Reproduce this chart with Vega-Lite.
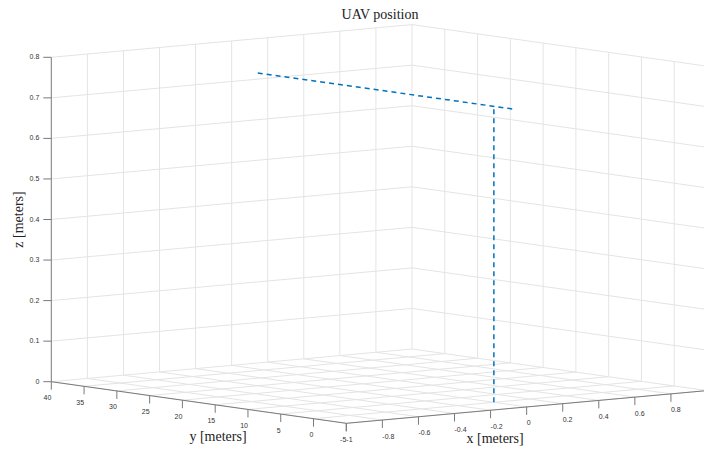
{
  "$schema": "https://vega.github.io/schema/vega-lite/v6.json",
  "width": 704,
  "height": 450,
  "autosize": {"type": "none"},
  "padding": 0,
  "background": "white",
  "config": {"view": {"stroke": null}},
  "title": {"text": "UAV position", "font": "Liberation Serif", "fontSize": 14, "fontWeight": "normal", "color": "#222222", "anchor": "middle", "dx": 28, "offset": -32.5, "baseline": "alphabetic"},
  "datasets": {
    "grid": [
      {"x1": -0.8, "y1": 40, "z1": 0, "x2": -0.8, "y2": 40, "z2": 0.8},
      {"x1": -0.6, "y1": 40, "z1": 0, "x2": -0.6, "y2": 40, "z2": 0.8},
      {"x1": -0.4, "y1": 40, "z1": 0, "x2": -0.4, "y2": 40, "z2": 0.8},
      {"x1": -0.2, "y1": 40, "z1": 0, "x2": -0.2, "y2": 40, "z2": 0.8},
      {"x1": 0, "y1": 40, "z1": 0, "x2": 0, "y2": 40, "z2": 0.8},
      {"x1": 0.2, "y1": 40, "z1": 0, "x2": 0.2, "y2": 40, "z2": 0.8},
      {"x1": 0.4, "y1": 40, "z1": 0, "x2": 0.4, "y2": 40, "z2": 0.8},
      {"x1": 0.6, "y1": 40, "z1": 0, "x2": 0.6, "y2": 40, "z2": 0.8},
      {"x1": 0.8, "y1": 40, "z1": 0, "x2": 0.8, "y2": 40, "z2": 0.8},
      {"x1": 1, "y1": 40, "z1": 0, "x2": 1, "y2": 40, "z2": 0.8},
      {"x1": -1, "y1": 40, "z1": 0.1, "x2": 1, "y2": 40, "z2": 0.1},
      {"x1": -1, "y1": 40, "z1": 0.2, "x2": 1, "y2": 40, "z2": 0.2},
      {"x1": -1, "y1": 40, "z1": 0.3, "x2": 1, "y2": 40, "z2": 0.3},
      {"x1": -1, "y1": 40, "z1": 0.4, "x2": 1, "y2": 40, "z2": 0.4},
      {"x1": -1, "y1": 40, "z1": 0.5, "x2": 1, "y2": 40, "z2": 0.5},
      {"x1": -1, "y1": 40, "z1": 0.6, "x2": 1, "y2": 40, "z2": 0.6},
      {"x1": -1, "y1": 40, "z1": 0.7, "x2": 1, "y2": 40, "z2": 0.7},
      {"x1": -1, "y1": 40, "z1": 0.8, "x2": 1, "y2": 40, "z2": 0.8},
      {"x1": 1, "y1": -5, "z1": 0, "x2": 1, "y2": -5, "z2": 0.8},
      {"x1": 1, "y1": 0, "z1": 0, "x2": 1, "y2": 0, "z2": 0.8},
      {"x1": 1, "y1": 5, "z1": 0, "x2": 1, "y2": 5, "z2": 0.8},
      {"x1": 1, "y1": 10, "z1": 0, "x2": 1, "y2": 10, "z2": 0.8},
      {"x1": 1, "y1": 15, "z1": 0, "x2": 1, "y2": 15, "z2": 0.8},
      {"x1": 1, "y1": 20, "z1": 0, "x2": 1, "y2": 20, "z2": 0.8},
      {"x1": 1, "y1": 25, "z1": 0, "x2": 1, "y2": 25, "z2": 0.8},
      {"x1": 1, "y1": 30, "z1": 0, "x2": 1, "y2": 30, "z2": 0.8},
      {"x1": 1, "y1": 35, "z1": 0, "x2": 1, "y2": 35, "z2": 0.8},
      {"x1": 1, "y1": -5, "z1": 0.1, "x2": 1, "y2": 40, "z2": 0.1},
      {"x1": 1, "y1": -5, "z1": 0.2, "x2": 1, "y2": 40, "z2": 0.2},
      {"x1": 1, "y1": -5, "z1": 0.3, "x2": 1, "y2": 40, "z2": 0.3},
      {"x1": 1, "y1": -5, "z1": 0.4, "x2": 1, "y2": 40, "z2": 0.4},
      {"x1": 1, "y1": -5, "z1": 0.5, "x2": 1, "y2": 40, "z2": 0.5},
      {"x1": 1, "y1": -5, "z1": 0.6, "x2": 1, "y2": 40, "z2": 0.6},
      {"x1": 1, "y1": -5, "z1": 0.7, "x2": 1, "y2": 40, "z2": 0.7},
      {"x1": 1, "y1": -5, "z1": 0.8, "x2": 1, "y2": 40, "z2": 0.8},
      {"x1": -1, "y1": -5, "z1": 0, "x2": -1, "y2": 40, "z2": 0},
      {"x1": -0.8, "y1": -5, "z1": 0, "x2": -0.8, "y2": 40, "z2": 0},
      {"x1": -0.6, "y1": -5, "z1": 0, "x2": -0.6, "y2": 40, "z2": 0},
      {"x1": -0.4, "y1": -5, "z1": 0, "x2": -0.4, "y2": 40, "z2": 0},
      {"x1": -0.2, "y1": -5, "z1": 0, "x2": -0.2, "y2": 40, "z2": 0},
      {"x1": 0, "y1": -5, "z1": 0, "x2": 0, "y2": 40, "z2": 0},
      {"x1": 0.2, "y1": -5, "z1": 0, "x2": 0.2, "y2": 40, "z2": 0},
      {"x1": 0.4, "y1": -5, "z1": 0, "x2": 0.4, "y2": 40, "z2": 0},
      {"x1": 0.6, "y1": -5, "z1": 0, "x2": 0.6, "y2": 40, "z2": 0},
      {"x1": 0.8, "y1": -5, "z1": 0, "x2": 0.8, "y2": 40, "z2": 0},
      {"x1": 1, "y1": -5, "z1": 0, "x2": 1, "y2": 40, "z2": 0},
      {"x1": -1, "y1": -5, "z1": 0, "x2": 1, "y2": -5, "z2": 0},
      {"x1": -1, "y1": 0, "z1": 0, "x2": 1, "y2": 0, "z2": 0},
      {"x1": -1, "y1": 5, "z1": 0, "x2": 1, "y2": 5, "z2": 0},
      {"x1": -1, "y1": 10, "z1": 0, "x2": 1, "y2": 10, "z2": 0},
      {"x1": -1, "y1": 15, "z1": 0, "x2": 1, "y2": 15, "z2": 0},
      {"x1": -1, "y1": 20, "z1": 0, "x2": 1, "y2": 20, "z2": 0},
      {"x1": -1, "y1": 25, "z1": 0, "x2": 1, "y2": 25, "z2": 0},
      {"x1": -1, "y1": 30, "z1": 0, "x2": 1, "y2": 30, "z2": 0},
      {"x1": -1, "y1": 35, "z1": 0, "x2": 1, "y2": 35, "z2": 0},
      {"x1": -1, "y1": 40, "z1": 0, "x2": 1, "y2": 40, "z2": 0}
    ],
    "axes": [
      {"axis": "z", "x1": -1, "y1": 40, "z1": 0, "x2": -1, "y2": 40, "z2": 0.8},
      {"axis": "y", "x1": -1, "y1": -5, "z1": 0, "x2": -1, "y2": 40, "z2": 0},
      {"axis": "x", "x1": -1, "y1": -5, "z1": 0, "x2": 1, "y2": -5, "z2": 0}
    ],
    "ticks": [
      {"axis": "z", "x": -1, "y": 40, "z": 0, "label": "0"},
      {"axis": "z", "x": -1, "y": 40, "z": 0.1, "label": "0.1"},
      {"axis": "z", "x": -1, "y": 40, "z": 0.2, "label": "0.2"},
      {"axis": "z", "x": -1, "y": 40, "z": 0.3, "label": "0.3"},
      {"axis": "z", "x": -1, "y": 40, "z": 0.4, "label": "0.4"},
      {"axis": "z", "x": -1, "y": 40, "z": 0.5, "label": "0.5"},
      {"axis": "z", "x": -1, "y": 40, "z": 0.6, "label": "0.6"},
      {"axis": "z", "x": -1, "y": 40, "z": 0.7, "label": "0.7"},
      {"axis": "z", "x": -1, "y": 40, "z": 0.8, "label": "0.8"},
      {"axis": "y", "x": -1, "y": -5, "z": 0, "label": "-5"},
      {"axis": "y", "x": -1, "y": 0, "z": 0, "label": "0"},
      {"axis": "y", "x": -1, "y": 5, "z": 0, "label": "5"},
      {"axis": "y", "x": -1, "y": 10, "z": 0, "label": "10"},
      {"axis": "y", "x": -1, "y": 15, "z": 0, "label": "15"},
      {"axis": "y", "x": -1, "y": 20, "z": 0, "label": "20"},
      {"axis": "y", "x": -1, "y": 25, "z": 0, "label": "25"},
      {"axis": "y", "x": -1, "y": 30, "z": 0, "label": "30"},
      {"axis": "y", "x": -1, "y": 35, "z": 0, "label": "35"},
      {"axis": "y", "x": -1, "y": 40, "z": 0, "label": "40"},
      {"axis": "x", "x": -1, "y": -5, "z": 0, "label": "-1"},
      {"axis": "x", "x": -0.8, "y": -5, "z": 0, "label": "-0.8"},
      {"axis": "x", "x": -0.6, "y": -5, "z": 0, "label": "-0.6"},
      {"axis": "x", "x": -0.4, "y": -5, "z": 0, "label": "-0.4"},
      {"axis": "x", "x": -0.2, "y": -5, "z": 0, "label": "-0.2"},
      {"axis": "x", "x": 0, "y": -5, "z": 0, "label": "0"},
      {"axis": "x", "x": 0.2, "y": -5, "z": 0, "label": "0.2"},
      {"axis": "x", "x": 0.4, "y": -5, "z": 0, "label": "0.4"},
      {"axis": "x", "x": 0.6, "y": -5, "z": 0, "label": "0.6"},
      {"axis": "x", "x": 0.8, "y": -5, "z": 0, "label": "0.8"}
    ],
    "path": [
      {"seg": "climb", "i": 0, "x": 0, "y": 0, "z": 0},
      {"seg": "climb", "i": 1, "x": 0, "y": 0, "z": 0.73},
      {"seg": "cruise", "i": 0, "x": 0, "y": -2.8, "z": 0.73},
      {"seg": "cruise", "i": 1, "x": 0, "y": 36.5, "z": 0.73}
    ],
    "titles": [
      {"axis": "x", "text": "x [meters]", "x": 0, "y": -5, "z": 0},
      {"axis": "y", "text": "y [meters]", "x": -1, "y": 17.5, "z": 0},
      {"axis": "z", "text": "z [meters]", "x": -1, "y": 40, "z": 0.4}
    ]
  },
  "layer": [
    {
      "data": {"name": "grid"},
      "transform": [
        {"calculate": "180.35*(datum.x1+1)-6.5556*(datum.y1+5)", "as": "u1"},
        {"calculate": "16.35*(datum.x1+1)+0.9244*(datum.y1+5)+405.5*datum.z1", "as": "v1"},
        {"calculate": "180.35*(datum.x2+1)-6.5556*(datum.y2+5)", "as": "u2"},
        {"calculate": "16.35*(datum.x2+1)+0.9244*(datum.y2+5)+405.5*datum.z2", "as": "v2"}
      ],
      "mark": {"type": "rule", "stroke": "#e4e4e4", "strokeWidth": 1, "clip": true},
      "encoding": {
        "x": {"field": "u1", "type": "quantitative", "scale": {"domain": [-346.3, 357.7], "nice": false, "zero": false}, "axis": null},
        "y": {"field": "v1", "type": "quantitative", "scale": {"domain": [-26.7, 423.3], "nice": false, "zero": false}, "axis": null},
        "x2": {"field": "u2"},
        "y2": {"field": "v2"}
      }
    },
    {
      "data": {"name": "axes"},
      "transform": [
        {"calculate": "180.35*(datum.x1+1)-6.5556*(datum.y1+5)", "as": "u1"},
        {"calculate": "16.35*(datum.x1+1)+0.9244*(datum.y1+5)+405.5*datum.z1", "as": "v1"},
        {"calculate": "180.35*(datum.x2+1)-6.5556*(datum.y2+5)", "as": "u2"},
        {"calculate": "16.35*(datum.x2+1)+0.9244*(datum.y2+5)+405.5*datum.z2", "as": "v2"}
      ],
      "mark": {"type": "rule", "stroke": "#7a7a7a", "strokeWidth": 1, "clip": true},
      "encoding": {
        "x": {"field": "u1", "type": "quantitative", "scale": {"domain": [-346.3, 357.7], "nice": false, "zero": false}, "axis": null},
        "y": {"field": "v1", "type": "quantitative", "scale": {"domain": [-26.7, 423.3], "nice": false, "zero": false}, "axis": null},
        "x2": {"field": "u2"},
        "y2": {"field": "v2"}
      }
    },
    {
      "data": {"name": "ticks"},
      "transform": [
        {"filter": "datum.axis == 'z'"},
        {"calculate": "180.35*(datum.x+1)-6.5556*(datum.y+5)", "as": "u"},
        {"calculate": "16.35*(datum.x+1)+0.9244*(datum.y+5)+405.5*datum.z", "as": "v"}
      ],
      "mark": {"type": "rule", "stroke": "#7a7a7a", "strokeWidth": 1, "x2Offset": -8},
      "encoding": {
        "x": {"field": "u", "type": "quantitative", "scale": {"domain": [-346.3, 357.7], "nice": false, "zero": false}, "axis": null},
        "x2": {"field": "u"},
        "y": {"field": "v", "type": "quantitative", "scale": {"domain": [-26.7, 423.3], "nice": false, "zero": false}, "axis": null}
      }
    },
    {
      "data": {"name": "ticks"},
      "transform": [
        {"filter": "datum.axis != 'z'"},
        {"calculate": "180.35*(datum.x+1)-6.5556*(datum.y+5)", "as": "u"},
        {"calculate": "16.35*(datum.x+1)+0.9244*(datum.y+5)+405.5*datum.z", "as": "v"}
      ],
      "mark": {"type": "rule", "stroke": "#7a7a7a", "strokeWidth": 1, "y2Offset": 8, "clip": true},
      "encoding": {
        "x": {"field": "u", "type": "quantitative", "scale": {"domain": [-346.3, 357.7], "nice": false, "zero": false}, "axis": null},
        "y": {"field": "v", "type": "quantitative", "scale": {"domain": [-26.7, 423.3], "nice": false, "zero": false}, "axis": null},
        "y2": {"field": "v"}
      }
    },
    {
      "data": {"name": "ticks"},
      "transform": [
        {"filter": "datum.axis == 'z'"},
        {"calculate": "180.35*(datum.x+1)-6.5556*(datum.y+5)", "as": "u"},
        {"calculate": "16.35*(datum.x+1)+0.9244*(datum.y+5)+405.5*datum.z", "as": "v"}
      ],
      "mark": {"type": "text", "font": "Liberation Sans", "fontSize": 7, "color": "#333333", "align": "right", "baseline": "middle", "dx": -12},
      "encoding": {
        "x": {"field": "u", "type": "quantitative", "scale": {"domain": [-346.3, 357.7], "nice": false, "zero": false}, "axis": null},
        "y": {"field": "v", "type": "quantitative", "scale": {"domain": [-26.7, 423.3], "nice": false, "zero": false}, "axis": null},
        "text": {"field": "label"}
      }
    },
    {
      "data": {"name": "ticks"},
      "transform": [
        {"filter": "datum.axis == 'y'"},
        {"calculate": "180.35*(datum.x+1)-6.5556*(datum.y+5)", "as": "u"},
        {"calculate": "16.35*(datum.x+1)+0.9244*(datum.y+5)+405.5*datum.z", "as": "v"}
      ],
      "mark": {"type": "text", "font": "Liberation Sans", "fontSize": 7, "color": "#333333", "align": "right", "baseline": "middle", "dx": 0, "dy": 16.5},
      "encoding": {
        "x": {"field": "u", "type": "quantitative", "scale": {"domain": [-346.3, 357.7], "nice": false, "zero": false}, "axis": null},
        "y": {"field": "v", "type": "quantitative", "scale": {"domain": [-26.7, 423.3], "nice": false, "zero": false}, "axis": null},
        "text": {"field": "label"}
      }
    },
    {
      "data": {"name": "ticks"},
      "transform": [
        {"filter": "datum.axis == 'x'"},
        {"calculate": "180.35*(datum.x+1)-6.5556*(datum.y+5)", "as": "u"},
        {"calculate": "16.35*(datum.x+1)+0.9244*(datum.y+5)+405.5*datum.z", "as": "v"}
      ],
      "mark": {"type": "text", "font": "Liberation Sans", "fontSize": 7, "color": "#333333", "align": "left", "baseline": "middle", "dx": 0, "dy": 16.5},
      "encoding": {
        "x": {"field": "u", "type": "quantitative", "scale": {"domain": [-346.3, 357.7], "nice": false, "zero": false}, "axis": null},
        "y": {"field": "v", "type": "quantitative", "scale": {"domain": [-26.7, 423.3], "nice": false, "zero": false}, "axis": null},
        "text": {"field": "label"}
      }
    },
    {
      "data": {"name": "path"},
      "transform": [
        {"calculate": "180.35*(datum.x+1)-6.5556*(datum.y+5)", "as": "u"},
        {"calculate": "16.35*(datum.x+1)+0.9244*(datum.y+5)+405.5*datum.z", "as": "v"}
      ],
      "mark": {"type": "line", "stroke": "#0072BD", "strokeWidth": 1.5, "strokeDash": [5, 4]},
      "encoding": {
        "x": {"field": "u", "type": "quantitative", "scale": {"domain": [-346.3, 357.7], "nice": false, "zero": false}, "axis": null},
        "y": {"field": "v", "type": "quantitative", "scale": {"domain": [-26.7, 423.3], "nice": false, "zero": false}, "axis": null},
        "detail": {"field": "seg"},
        "order": {"field": "i", "type": "quantitative"}
      }
    },
    {
      "data": {"name": "titles"},
      "transform": [
        {"filter": "datum.axis == 'x'"},
        {"calculate": "180.35*(datum.x+1)-6.5556*(datum.y+5)", "as": "u"},
        {"calculate": "16.35*(datum.x+1)+0.9244*(datum.y+5)+405.5*datum.z", "as": "v"}
      ],
      "mark": {"type": "text", "font": "Liberation Serif", "fontSize": 14, "color": "#222222", "align": "center", "baseline": "middle", "dx": -31.6, "dy": 32},
      "encoding": {
        "x": {"field": "u", "type": "quantitative", "scale": {"domain": [-346.3, 357.7], "nice": false, "zero": false}, "axis": null},
        "y": {"field": "v", "type": "quantitative", "scale": {"domain": [-26.7, 423.3], "nice": false, "zero": false}, "axis": null},
        "text": {"field": "text"}
      }
    },
    {
      "data": {"name": "titles"},
      "transform": [
        {"filter": "datum.axis == 'y'"},
        {"calculate": "180.35*(datum.x+1)-6.5556*(datum.y+5)", "as": "u"},
        {"calculate": "16.35*(datum.x+1)+0.9244*(datum.y+5)+405.5*datum.z", "as": "v"}
      ],
      "mark": {"type": "text", "font": "Liberation Serif", "fontSize": 14, "color": "#222222", "align": "center", "baseline": "middle", "dx": 19.2, "dy": 34.5},
      "encoding": {
        "x": {"field": "u", "type": "quantitative", "scale": {"domain": [-346.3, 357.7], "nice": false, "zero": false}, "axis": null},
        "y": {"field": "v", "type": "quantitative", "scale": {"domain": [-26.7, 423.3], "nice": false, "zero": false}, "axis": null},
        "text": {"field": "text"}
      }
    },
    {
      "data": {"name": "titles"},
      "transform": [
        {"filter": "datum.axis == 'z'"},
        {"calculate": "180.35*(datum.x+1)-6.5556*(datum.y+5)", "as": "u"},
        {"calculate": "16.35*(datum.x+1)+0.9244*(datum.y+5)+405.5*datum.z", "as": "v"}
      ],
      "mark": {"type": "text", "font": "Liberation Serif", "fontSize": 14, "color": "#222222", "align": "center", "baseline": "middle", "angle": 270, "xOffset": -32},
      "encoding": {
        "x": {"field": "u", "type": "quantitative", "scale": {"domain": [-346.3, 357.7], "nice": false, "zero": false}, "axis": null},
        "y": {"field": "v", "type": "quantitative", "scale": {"domain": [-26.7, 423.3], "nice": false, "zero": false}, "axis": null},
        "text": {"field": "text"}
      }
    }
  ]
}
